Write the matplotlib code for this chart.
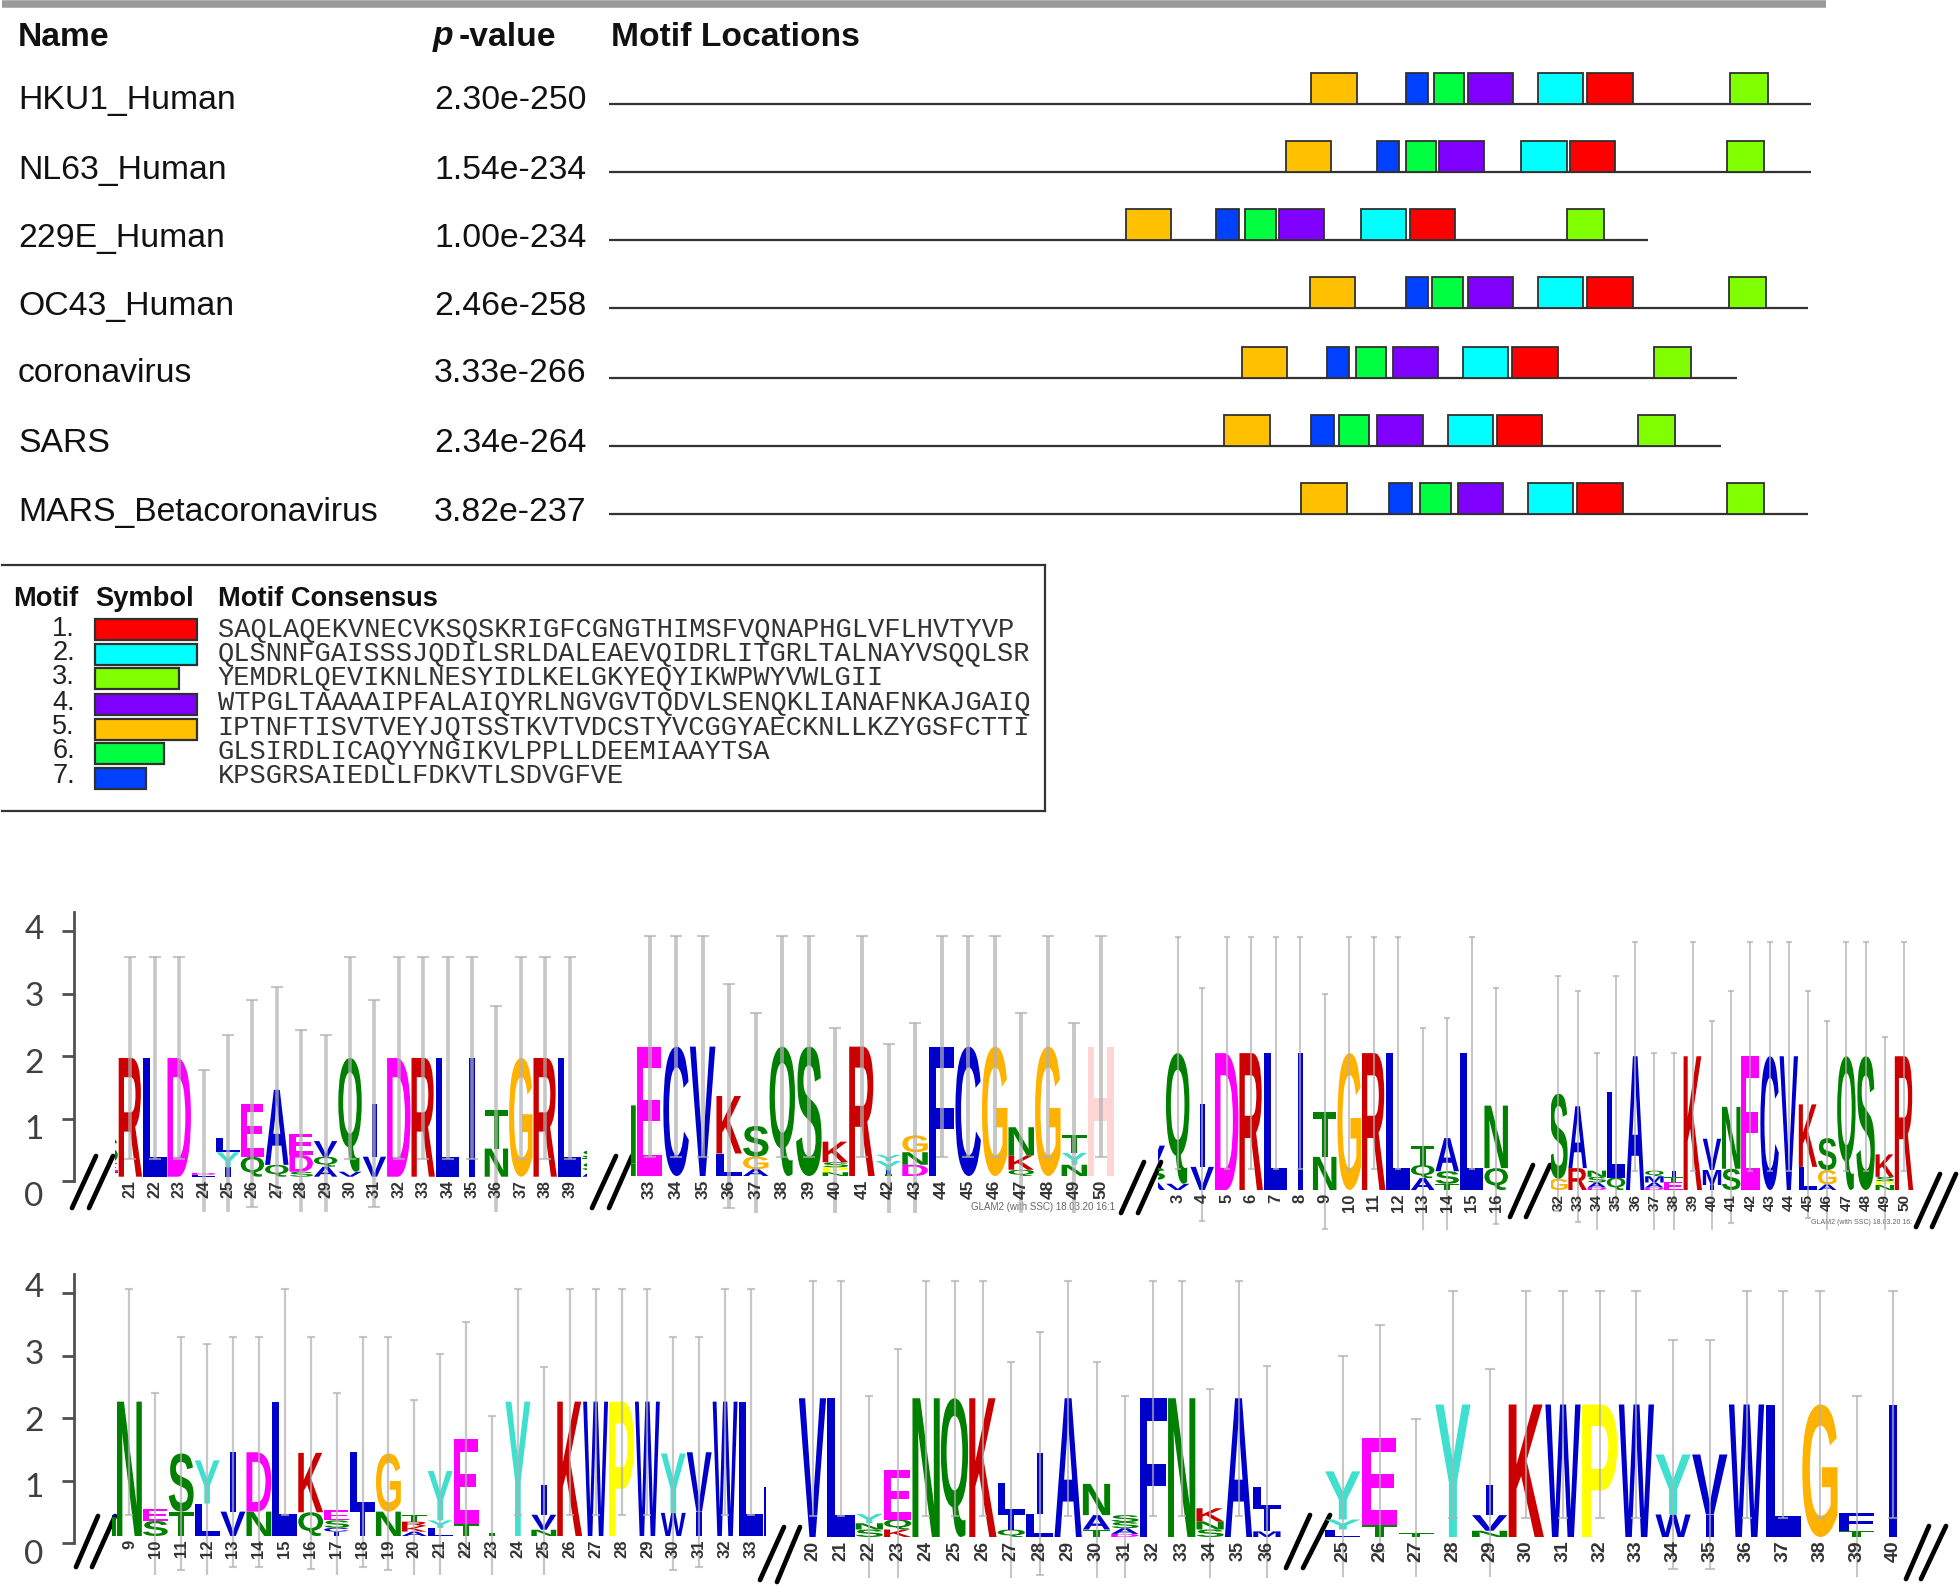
import matplotlib
matplotlib.use("Agg")
import matplotlib.pyplot as plt
from matplotlib.font_manager import FontProperties
from matplotlib.patches import PathPatch
from matplotlib.textpath import TextPath
from matplotlib.transforms import Affine2D

W, H = 1960, 1586

#### motif location table
names = ["HKU1_Human", "NL63_Human", "229E_Human", "OC43_Human", "coronavirus", "SARS", "MARS_Betacoronavirus"]
pvalues = ["2.30e-250", "1.54e-234", "1.00e-234", "2.46e-258", "3.33e-266", "2.34e-264", "3.82e-237"]
seq_len = [1328, 1328, 1148, 1325, 1246, 1229, 1325]
# start of the motif on each sequence, order 5 7 6 4 2 1 3 as they sit along the line
order = [5, 7, 6, 4, 2, 1, 3]
starts = [
    [776, 880, 911, 949, 1026, 1081, 1239],
    [748, 848, 880, 917, 1008, 1062, 1235],
    [571, 671, 703, 740, 831, 885, 1058],
    [774, 880, 909, 949, 1026, 1081, 1237],
    [699, 793, 825, 866, 943, 998, 1154],
    [680, 776, 806, 849, 927, 981, 1137],
    [765, 862, 896, 938, 1015, 1070, 1235],
]
motif_width = {1: 50, 2: 50, 3: 41, 4: 50, 5: 50, 6: 34, 7: 25}
motif_color = {1: "#ff0000", 2: "#00ffff", 3: "#80ff00", 4: "#8000ff", 5: "#ffc000", 6: "#00ff40", 7: "#0040ff"}
consensus = [
    "SAQLAQEKVNECVKSQSKRIGFCGNGTHIMSFVQNAPHGLVFLHVTYVP",
    "QLSNNFGAISSSJQDILSRLDALEAEVQIDRLITGRLTALNAYVSQQLSR",
    "YEMDRLQEVIKNLNESYIDLKELGKYEQYIKWPWYVWLGII",
    "WTPGLTAAAAIPFALAIQYRLNGVGVTQDVLSENQKLIANAFNKAJGAIQ",
    "IPTNFTISVTVEYJQTSSTKVTVDCSTYVCGGYAECKNLLKZYGSFCTTI",
    "GLSIRDLICAQYYNGIKVLPPLLDEEMIAAYTSA",
    "KPSGRSAIEDLLFDKVTLSDVGFVE",
]

#### sequence logos, each stack is listed bottom to top as (letter, bits)
p1_labels = ["", 21, 22, 23, 24, 25, 26, 27, 28, 29, 30, 31, 32, 33, 34, 35, 36, 37, 38, 39, ""]
p1_stacks = [
    [("T", .08), ("E", .14), ("S", .42)],
    [("R", 1.9)], [("L", 1.9)], [("D", 1.9)],
    [("L", .03), ("D", .03)],
    [("I", .15), ("Y", .24), ("L", .23)],
    [("Q", .32), ("E", .85)],
    [("Q", .19), ("A", 1.2)],
    [("S", .08), ("D", .27), ("E", .34)],
    [("A", .16), ("Q", .16), ("V", .25)],
    [("V", .08), ("Q", 1.82)],
    [("V", .32), ("I", .85)],
    [("D", 1.9)], [("R", 1.9)], [("L", 1.9)], [("I", 1.9)],
    [("N", .45), ("T", .62)],
    [("G", 1.9)], [("R", 1.9)], [("L", 1.9)],
    [("A", .1), ("S", .12), ("T", .08), ("S", .12)],
]
p1_top = [None, 3.52, 3.52, 3.52, 1.7, 2.27, 2.83, 3.04, 2.35, 2.27, 3.52, 2.83, 3.52, 3.52, 3.52, 3.52, 2.73, 3.52, 3.52, 3.52, None]
p1_left_stack = [("L", .2), ("S", .1), ("I", .02)]

p2_labels = ["", 33, 34, 35, 36, 37, 38, 39, 40, 41, 42, 43, 44, 45, 46, 47, 48, 49, 50]
p2_stacks = [
    [("N", .2), ("N", .93)],
    [("E", 2.07)], [("C", 2.07)], [("V", 2.07)],
    [("L", .36), ("K", .92)],
    [("A", .11), ("G", .2), ("S", .49)],
    [("Q", 2.07)], [("S", 2.07)],
    [("N", .06), ("P", .08), ("S", .08), ("K", .33)],
    [("R", 2.07)],
    [("T", .04), ("I", .05), ("Y", .15), ("Y", .1)],
    [("D", .18), ("N", .2), ("G", .27)],
    [("F", 2.07)], [("C", 2.07)], [("G", 2.07)],
    [("Q", .1), ("K", .23), ("N", .45)],
    [("G", 2.07)],
    [("N", .18), ("Y", .19), ("T", .28)],
    [("H", 2.07)],
]
p2_top = [None, 3.84, 3.84, 3.84, 3.07, 2.61, 3.84, 3.84, 2.37, 3.84, 2.11, 2.45, 3.84, 3.84, 3.84, 2.61, 3.84, 2.45, 3.84]

p3_labels = ["", 3, 4, 5, 6, 7, 8, 9, 10, 11, 12, 13, 14, 15, 16]
p3_stacks = [
    [("A", .16), ("S", .2), ("V", .35)],
    [("V", .1), ("Q", 2.09)],
    [("V", .37), ("I", 1.0)],
    [("D", 2.19)], [("R", 2.19)], [("L", 2.19)], [("I", 2.19)],
    [("N", .53), ("T", .72)],
    [("G", 2.19)], [("R", 2.19)], [("L", 2.19)],
    [("A", .19), ("Q", .21), ("T", .31)],
    [("T", .1), ("S", .2), ("A", .53)],
    [("L", 2.19)],
    [("Q", .35), ("N", 1.0)],
]
p3_top = [None, 4.05, 3.24, 4.05, 4.05, 4.05, 4.05, 3.13, 4.05, 4.05, 4.05, 2.6, 2.76, 4.05, 3.24]

p4_labels = [32, 33, 34, 35, 36, 37, 38, 39, 40, 41, 42, 43, 44, 45, 46, 47, 48, 49, 50]
p4_stacks = [
    [("G", .18), ("S", 1.36)],
    [("R", .35), ("A", .99)],
    [("D", .04), ("A", .08), ("S", .09), ("N", .1)],
    [("Q", .2), ("L", 1.37)],
    [("A", 2.14)],
    [("D", .04), ("A", .08), ("M", .1), ("Q", .09)],
    [("E", .13), ("T", .08), ("I", .1)],
    [("K", 2.14)],
    [("I", .08), ("M", .24), ("V", .5)],
    [("S", .34), ("N", .99)],
    [("E", 2.14)], [("C", 2.14)], [("V", 2.14)],
    [("L", .37), ("K", 1.0)],
    [("A", .09), ("G", .23), ("S", .51)],
    [("Q", 2.14)], [("S", 2.14)],
    [("N", .08), ("P", .06), ("S", .07), ("K", .36)],
    [("R", 2.14)],
]
p4_top = [3.42, 3.19, 2.19, 3.42, 3.97, 2.19, 2.19, 3.97, 2.71, 3.19, 3.97, 3.97, 3.97, 3.19, 2.71, 3.97, 3.97, 2.45, 3.97]

p5_labels = ["", 9, 10, 11, 12, 13, 14, 15, 16, 17, 18, 19, 20, 21, 22, 23, 24, 25, 26, 27, 28, 29, 30, 31, 32, 33, ""]
p5_stacks = [
    [("N", .3), ("L", .25)],
    [("N", 2.15)],
    [("S", .24), ("E", .2)],
    [("T", .39), ("S", .93)],
    [("L", .52), ("Y", .69)],
    [("V", .39), ("I", .95)],
    [("N", .39), ("D", .95)],
    [("L", 2.15)],
    [("Q", .38), ("K", .95)],
    [("I", .07), ("C", .06), ("S", .12), ("E", .16)],
    [("I", .39), ("L", .95)],
    [("N", .39), ("G", .93)],
    [("A", .07), ("K", .09), ("R", .07), ("T", .1)],
    [("L", .07), ("F", .06), ("Y", .12), ("Y", .79)],
    [("T", .2), ("E", 1.36)],
    [("T", .05)],
    [("Y", 2.15)],
    [("N", .1), ("V", .24), ("I", .48)],
    [("K", 2.15)], [("W", 2.15)], [("P", 2.15)], [("W", 2.15)],
    [("W", .37), ("Y", .95)],
    [("I", .39), ("V", .95)],
    [("W", 2.15)], [("L", 2.15)],
    [("L", .39), ("L", .4)],
]
p5_top = [None, 3.96, 2.29, 3.18, 3.07, 3.18, 3.18, 3.96, 3.18, 2.29, 3.18, 3.18, 2.18, 2.91, 3.42, 1.92, 3.96, 2.71, 3.96, 3.96, 3.96, 3.96, 3.18, 3.18, 3.96, 3.96, None]
p5_left_stack = [("L", .12), ("S", .12), ("I", .02), ("V", .1)]

p6_labels = [20, 21, 22, 23, 24, 25, 26, 27, 28, 29, 30, 31, 32, 33, 34, 35, 36]
p6_stacks = [
    [("V", 2.22)], [("L", 2.22)],
    [("S", .12), ("N", .1), ("Y", .15)],
    [("K", .12), ("Q", .16), ("E", .79)],
    [("N", 2.22)], [("Q", 2.22)], [("K", 2.22)],
    [("Q", .12), ("I", .24), ("L", .5)],
    [("L", .37), ("I", .97)],
    [("A", 2.22)],
    [("T", .12), ("A", .23), ("N", .5)],
    [("D", .05), ("A", .09), ("S", .1), ("S", .11)],
    [("F", 2.22)], [("N", 2.22)],
    [("S", .12), ("N", .13), ("K", .21)],
    [("A", 2.22)],
    [("M", .09), ("I", .36), ("L", .35)],
]
p6_top = [4.1, 4.1, 2.26, 3.01, 4.1, 4.1, 4.1, 2.8, 3.28, 4.1, 2.8, 2.26, 4.1, 4.1, 2.37, 4.1, 2.73]

p7_labels = [25, 26, 27, 28, 29, 30, 31, 32, 33, 34, 35, 36, 37, 38, 39, 40]
p7_stacks = [
    [("L", .12), ("Y", .16), ("Y", .77)],
    [("T", .2), ("E", 1.39)],
    [("T", .06)],
    [("Y", 2.12)],
    [("N", .1), ("V", .25), ("I", .48)],
    [("K", 2.12)], [("W", 2.12)], [("P", 2.12)], [("W", 2.12)],
    [("W", .36), ("Y", .96)],
    [("I", .36), ("V", .96)],
    [("W", 2.12)], [("L", 2.12)], [("G", 2.12)],
    [("T", .1), ("F", .28)],
    [("I", 2.12)],
]
p7_top = [2.89, 3.4, 1.89, 3.93, 2.69, 3.93, 3.93, 3.93, 3.93, 3.15, 3.15, 3.93, 3.93, 3.93, 2.26, 3.93]

letter_color = {"A": "#0000cc", "C": "#0000cc", "F": "#0000cc", "I": "#0000cc", "L": "#0000cc", "M": "#0000cc",
                "V": "#0000cc", "W": "#0000cc", "R": "#cc0000", "K": "#cc0000", "D": "#ff00ff", "E": "#ff00ff",
                "G": "#ffb300", "N": "#008000", "Q": "#008000", "S": "#008000", "T": "#008000", "Y": "#40e0d0",
                "H": "#ffd5d5", "P": "#ffff00"}
BOLD = FontProperties(family="Liberation Sans", weight="bold")


def px_axes(left, right, top, bottom):
    return fig.add_axes([left / W, 1 - bottom / H, (right - left) / W, (bottom - top) / H])


def draw_letter(ax, letter, x, y, width, height):
    path = TextPath((0, 0), letter, size=1, prop=BOLD)
    box = path.get_extents()
    w = width * 0.22 if letter == "I" else width
    tr = Affine2D().translate(-box.x0, -box.y0).scale(w / box.width, height / box.height).translate(x - w / 2, y)
    ax.add_patch(PathPatch(tr.transform_path(path), fc=letter_color[letter], lw=0, zorder=2))


def draw_logo(labels, stacks, tops, x0, dx, clip_l, clip_r, base, low, lw, cap, fs=11):
    # one unit of x is one column, one unit of y is one bit (62.5 px)
    ax = px_axes(clip_l, clip_r, base - 4.4 * 62.5, low)
    ax.set_xlim((clip_l - x0) / dx, (clip_r - x0) / dx)
    ax.set_ylim(-(low - base) / 62.5, 4.4)
    ax.axis("off")
    ax.patch.set_alpha(0)
    for i, stack in enumerate(stacks):
        y = 0
        for letter, h in stack:
            draw_letter(ax, letter, i, y, 0.96, h)
            y += h
        if tops[i] is not None:
            ax.errorbar(i, y, yerr=tops[i] - y, fmt="none", ecolor="#b0b0b0", elinewidth=lw, capsize=cap,
                        capthick=1.5, alpha=0.7, zorder=3)
        if labels[i] != "":
            ax.text(i, -0.06, str(labels[i]), rotation=90, ha="center", va="top", fontsize=fs, color="#333333",
                    family="Liberation Sans", weight="bold", zorder=4)


def draw_y_axis(top, bottom, label_zero):
    ax = px_axes(74, 76, top, bottom)
    ax.set_ylim(0, (bottom - top) / 62.5)
    ax.set_xlim(0, 1)
    ax.patch.set_alpha(0)
    for s in ["top", "right", "bottom"]:
        ax.spines[s].set_visible(False)
    ax.spines["left"].set_linewidth(2)
    ax.spines["left"].set_color("#505050")
    ax.set_xticks([])
    ax.set_yticks(range(5))
    ax.set_yticklabels([])
    ax.tick_params(axis="y", length=8.5, width=2, color="#505050")
    for k in range(5):
        # the numbers of the pasted axis are spaced a little wider than its ticks
        ty = (bottom - (label_zero - 66.7 * k)) / 62.5
        ax.text(-20.0, ty, str(k), ha="center", va="center", fontsize=24, family="Lato", color="#404040")


fig = plt.figure(figsize=(W / 100, H / 100), dpi=100)

#### motif locations
ax = px_axes(609, 1811, 0, 560)
ax.set_xlim(0, 1328)
ax.set_ylim(560, 0)
ax.axis("off")
row_y = [103.5, 171.5, 239.5, 308, 377.5, 445.6, 514]
for r in range(len(names)):
    ax.plot([0, seq_len[r]], [row_y[r], row_y[r]], color="#333333", lw=1.6, solid_capstyle="butt", zorder=1)
    for m, s in zip(order, starts[r]):
        ax.bar(s, 31, width=motif_width[m], bottom=row_y[r] - 31, align="edge", color=motif_color[m],
               edgecolor="#303030", lw=1.3, zorder=2)

#### motif legend
lg = px_axes(2, 1045, 565, 811)
lg.set_xlim((2 - 94.7) / 2.05, (1045 - 94.7) / 2.05)
lg.set_ylim(811, 565)
lg.set_xticks([])
lg.set_yticks([])
lg.spines["left"].set_visible(False)
for s in ["top", "right", "bottom"]:
    lg.spines[s].set_linewidth(1.6)
    lg.spines[s].set_color("#333333")
bar_y = [629.5, 654.5, 678.5, 704.5, 729.5, 753, 778]
lg.barh(bar_y, [motif_width[m] for m in range(1, 8)], height=21, left=0,
        color=[motif_color[m] for m in range(1, 8)], edgecolor="#303030", lw=1.6)

#### all the text and decoration in picture pixels
ov = fig.add_axes([0, 0, 1, 1])
ov.set_xlim(0, W)
ov.set_ylim(H, 0)
ov.axis("off")
ov.patch.set_alpha(0)
ov.plot([2, 1826], [3.5, 3.5], color="#9a9a9a", lw=5.4, solid_capstyle="butt")

SANS = "Liberation Sans"
ov.text(18, 45.5, "Name", fontsize=24.2, family=SANS, weight="bold", va="baseline", color="#111111")
ov.text(433, 45.5, "p", fontsize=24.2, family=SANS, weight="bold", style="italic", va="baseline", color="#111111")
ov.text(459, 45.5, "-value", fontsize=24.2, family=SANS, weight="bold", va="baseline", color="#111111")
ov.text(611, 45.5, "Motif Locations", fontsize=24.2, family=SANS, weight="bold", va="baseline", color="#111111")
text_y = [109, 179, 247, 315, 382.5, 452, 521]
for r in range(len(names)):
    ov.text(18, text_y[r], names[r], fontsize=24.3, family=SANS, va="baseline", color="#111111")
    ov.text(434, text_y[r], pvalues[r], fontsize=24.3, family=SANS, va="baseline", color="#111111")

ov.text(13, 606, "Motif", fontsize=19.6, family=SANS, weight="bold", va="baseline", color="#111111")
ov.text(95.5, 606, "Symbol", fontsize=19.6, family=SANS, weight="bold", va="baseline", color="#111111")
ov.text(218, 606, "Motif Consensus", fontsize=19.6, family=SANS, weight="bold", va="baseline", color="#111111")
line_y = [636.5, 660.5, 684.5, 709.5, 734, 758.5, 783]
for i in range(len(consensus)):
    ov.text(75, line_y[i], "%d." % (i + 1), fontsize=19.5, family=SANS, ha="right", va="baseline", color="#222222")
    ov.text(217.5, line_y[i], consensus[i], fontsize=19.55, family="Liberation Mono", va="baseline", color="#333333")

slashes = [(72, 1208, 96, 1156), (89, 1208, 113, 1156), (592, 1208, 616, 1156), (609, 1208, 632, 1156),
           (1121, 1213, 1144, 1162), (1138, 1213, 1161, 1162), (1510, 1217, 1533, 1165), (1526, 1217, 1550, 1165),
           (1916, 1227, 1940, 1174), (1932, 1227, 1956, 1174), (76, 1567, 98, 1516), (92, 1567, 115, 1516),
           (760, 1580, 784, 1527), (777, 1582, 800, 1527), (1286, 1568, 1310, 1515), (1303, 1568, 1330, 1515),
           (1906, 1579, 1929, 1526), (1921, 1579, 1946, 1526)]
for x1, y1, x2, y2 in slashes:
    ov.plot([x1, x2], [y1, y2], color="black", lw=3.4, solid_capstyle="round", zorder=5)
ov.text(971, 1207, "GLAM2 (with SSC) 18.03.20 16:1", fontsize=7, family=SANS, va="center", color="#666666")
ov.text(1811, 1223, "GLAM2 (with SSC) 18.03.20 16:", fontsize=5, family=SANS, va="center", color="#666666")

#### logos
draw_logo([""], [p1_left_stack], [None], 62, 24.4, 74, 80, 1176.7, 1212, 2, 3)
draw_logo([""], [p5_left_stack], [None], 62, 25.9, 75, 80, 1541, 1575, 2, 3)
draw_logo(p1_labels, p1_stacks, p1_top, 106, 24.4, 115, 587, 1176.7, 1212, 2.6, 4, fs=11.5)
draw_logo(p2_labels, p2_stacks, p2_top, 623, 26.55, 631, 1115, 1176, 1213, 2.8, 4.5, fs=12.5)
draw_logo(p3_labels, p3_stacks, p3_top, 1153.2, 24.5, 1158, 1511, 1190, 1230, 1.5, 2.5, fs=12)
draw_logo(p4_labels, p4_stacks, p4_top, 1558.4, 19.2, 1551, 1914, 1190, 1230, 1.4, 2.5, fs=11)
draw_logo(p5_labels, p5_stacks, p5_top, 103.5, 25.9, 112, 766, 1536, 1575, 1.6, 3, fs=12)
draw_logo(p6_labels, p6_stacks, p6_top, 812.5, 28.4, 799, 1282, 1537, 1578, 1.5, 3, fs=13)
draw_logo(p7_labels, p7_stacks, p7_top, 1342.8, 36.7, 1324, 1908, 1537, 1577, 1.5, 3.5, fs=14)

draw_y_axis(912, 1181, 1197)
draw_y_axis(1274, 1543, 1555)

fig.savefig("out.png", dpi=100)
